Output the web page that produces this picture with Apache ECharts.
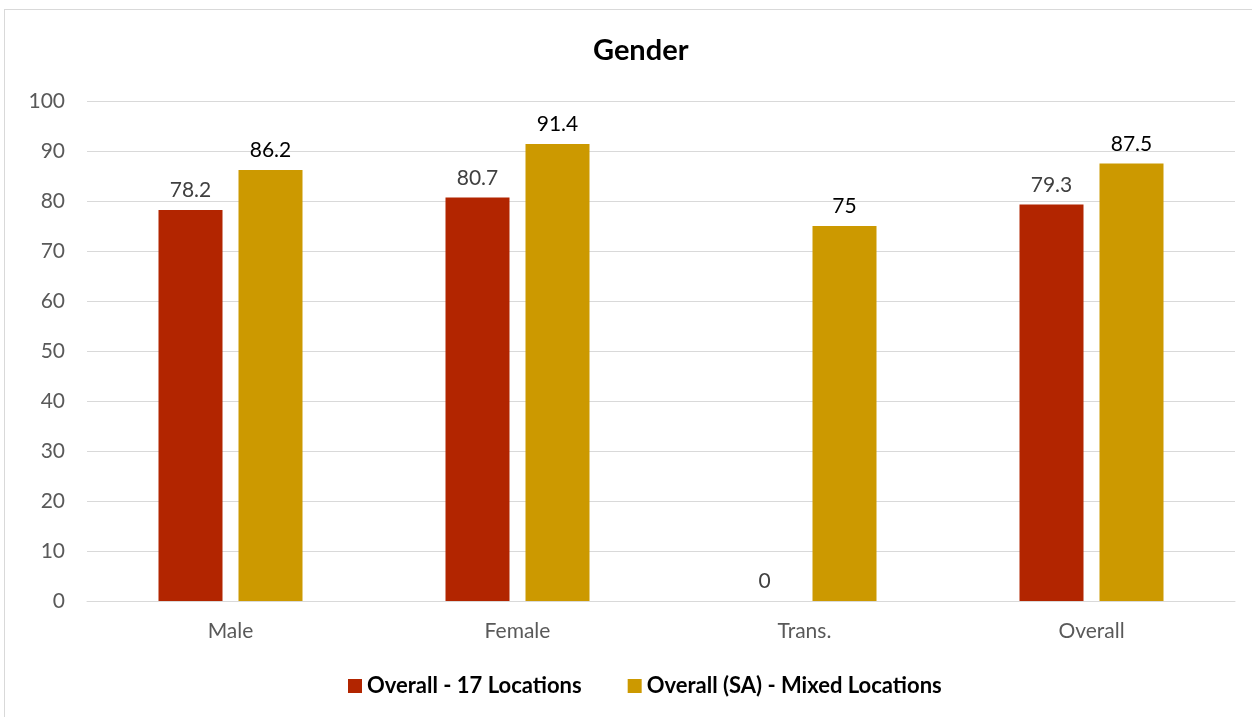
<!DOCTYPE html>
<html><head><meta charset="utf-8">
<script src="https://cdn.jsdelivr.net/npm/echarts@6/dist/echarts.min.js"></script>
<style>
html,body{margin:0;padding:0;background:#fff;overflow:hidden;}
#frame{position:absolute;left:4px;top:9px;width:1260px;height:720px;border:1px solid #d9d9d9;box-sizing:border-box;}
#c{position:absolute;left:0;top:0;width:1252px;height:717px;}
</style></head><body>
<div id="frame"></div>
<div id="c"></div>
<script>
const categories = ['Male', 'Female', 'Trans.', 'Overall'];
const series17 = [78.2, 80.7, 0, 79.3];
const seriesSA = [86.2, 91.4, 75, 87.5];
const yTicks = [0, 10, 20, 30, 40, 50, 60, 70, 80, 90, 100];
const seriesNames = ['Overall - 17 Locations', 'Overall (SA) - Mixed Locations'];

const FONT = 'Lato, "Open Sans", sans-serif';
const chart = echarts.init(document.getElementById('c'));
chart.setOption({
  animation: false,
  textStyle: { fontFamily: FONT },
  title: { text: 'Gender', left: 588, top: 31, textStyle: { fontFamily: FONT, fontSize: 29, fontWeight: 'bold', color: '#000' } },
  legend: {
    bottom: 15, left: 343, itemWidth: 14, itemHeight: 14, itemGap: 46,
    icon: 'rect',
    textStyle: { fontFamily: FONT, fontSize: 22, fontWeight: 'bold', color: '#000' },
    data: seriesNames
  },
  grid: { left: 87, right: 17, top: 101, bottom: 116, containLabel: false },
  xAxis: {
    type: 'category', data: categories,
    axisLine: { lineStyle: { color: '#d9d9d9', width: 1 } },
    axisTick: { show: false },
    axisLabel: { fontFamily: FONT, fontSize: 21, color: '#595959', margin: 20 }
  },
  yAxis: {
    type: 'value', min: yTicks[0], max: yTicks[yTicks.length - 1], interval: 10,
    axisLine: { show: false }, axisTick: { show: false },
    splitLine: { lineStyle: { color: '#d9d9d9', width: 1 } },
    axisLabel: { fontFamily: FONT, fontSize: 21, color: '#595959', margin: 22 }
  },
  series: [
    { name: seriesNames[0], type: 'bar', data: series17, barWidth: 64, barGap: '25%',
      itemStyle: { color: '#B22500' },
      label: { show: true, position: 'top', distance: 9, fontFamily: FONT, fontSize: 21, color: '#404040' } },
    { name: seriesNames[1], type: 'bar', data: seriesSA, barWidth: 64, barGap: '25%',
      itemStyle: { color: '#CC9900' },
      label: { show: true, position: 'top', distance: 9, fontFamily: FONT, fontSize: 21, color: '#000' } }
  ]
});
</script>
</body></html>
